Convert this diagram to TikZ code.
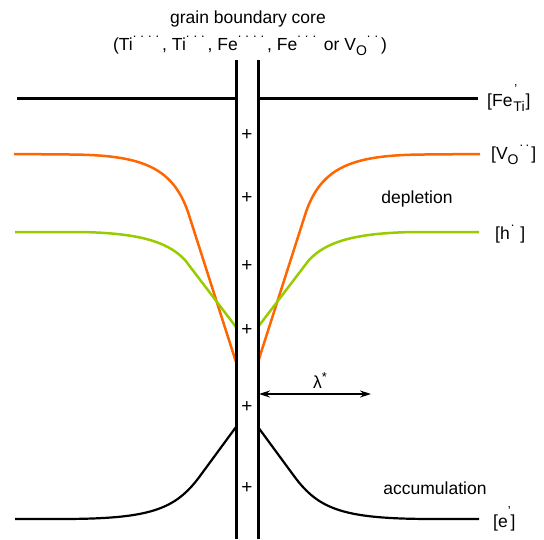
\documentclass[tikz,border=0pt]{standalone}
\usepackage{fontspec}
\setmainfont{Liberation Sans}
\usetikzlibrary{arrows.meta}
\definecolor{vorange}{RGB}{255,102,0}
\definecolor{hgreen}{RGB}{153,204,0}
\newcommand\dsup[1]{\raisebox{0.72em}{\fontsize{13}{13}\selectfont #1}}
\newcommand\dsub[1]{\raisebox{-0.3em}{\fontsize{14}{14}\selectfont #1}}
\newcommand\dg{\hspace{4pt}}
\begin{document}
\begin{tikzpicture}[x=1pt,y=-1pt,
  font=\fontsize{17.5}{20}\selectfont,
  gb/.style={line width=3pt},
  conc/.style={line width=2.5pt, line join=round},
  lbl/.style={inner sep=0pt, anchor=west},
  txt/.style={inner sep=0pt},
  plussign/.style={inner sep=0pt, font=\fontsize{19}{20}\selectfont},
  dimarrow/.style={line width=1.3pt, {Stealth[length=11pt,width=7pt]}-{Stealth[length=11pt,width=7pt]}}]
\useasboundingbox (0,0) rectangle (544,539);

% Fe line
\draw[gb] (17,98) -- (236,98);
\draw[gb] (258,98) -- (478,98);

% V_O (orange)
\draw[conc, vorange] (14,154) -- (70,154.5) .. controls (140,155) and (172,166) .. (188,212) -- (236,362);
\draw[conc, vorange] (480,154) -- (424,154.5) .. controls (354,155) and (322,166) .. (306,212) -- (258,362);

% h (green)
\draw[conc, hgreen] (15,232) -- (80,232) .. controls (140,233) and (168,242) .. (185,260) -- (236,327);
\draw[conc, hgreen] (479,232) -- (414,232) .. controls (354,233) and (326,242) .. (309,260) -- (258,327);

% e (black)
\draw[conc, line width=2.2pt] (15,519) -- (60,519) .. controls (150,519) and (175,510) .. (200,476) -- (236,427);
\draw[conc, line width=2.2pt] (479,519) -- (434,519) .. controls (344,519) and (319,510) .. (294,476) -- (258,427);

% grain boundary core walls
\coordinate (wlt) at (236,60); \coordinate (wlb) at (236,539);
\coordinate (wrt) at (258,60); \coordinate (wrb) at (258,539);
\draw[gb] (wlt) -- (wlb);
\draw[gb] (wrt) -- (wrb);

% plus signs
\foreach \yy [count=\i] in {135,198,266,330,407,488}
  \node[plussign] (p\i) at (247,\yy) {+};

% lambda arrow
\coordinate (a1) at (259,394);
\coordinate (a2) at (371,394);
\draw[dimarrow] (a1) -- (a2);
\node[txt] (lam) at (320,381) {λ\raisebox{0.4em}{\fontsize{13}{13}\selectfont *}};

% top title
\node[txt, anchor=base] (t1) at (248,23) {grain boundary core};
\node[txt, anchor=base] (t2) at (250,50) {(Ti\dsup{.\dg.\dg.\dg.}\,, Ti\dsup{.\dg.\dg.}\,, Fe\dsup{.\dg.\dg.\dg.}\,, Fe\dsup{.\dg.\dg.}\, or V\dsub{O}\dsup{.\dg.}\,)};

% right labels
\node[lbl] (lfe) at (487,98) {[Fe\rlap{\hspace{2pt}\dsup{'}}\hspace{1pt}\dsub{Ti}\hspace{1pt}]};
\node[lbl] (lvo) at (491,155) {[V\dsub{O}\hspace{1pt}\dsup{.\hspace{2.5pt}.}\hspace{2pt}]};
\node[lbl] (lh) at (495,234) {[h\hspace{1pt}\dsup{.}\hspace{6pt}]};
\node[lbl] (le) at (493,519) {[e\dsup{'}]};

% region labels
\node[txt] (dep) at (417,199) {depletion};
\node[txt] (acc) at (435,488) {accumulation};
\end{tikzpicture}
\end{document}
